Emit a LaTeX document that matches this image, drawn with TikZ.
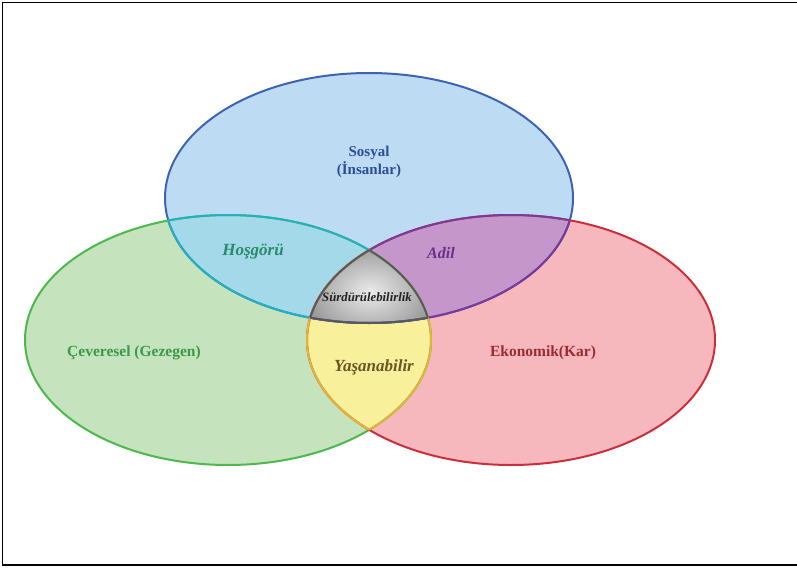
\documentclass[tikz,border=0pt]{standalone}
\usepackage{fontspec}
\setmainfont{Liberation Serif}
\begin{document}
\begin{tikzpicture}[x=1pt,y=-1pt]
  % palette
  \definecolor{bFill}{RGB}{189,220,244}
  \definecolor{bLine}{RGB}{61,100,180}
  \definecolor{gFill}{RGB}{197,227,188}
  \definecolor{gLine}{RGB}{77,184,77}
  \definecolor{rFill}{RGB}{246,184,189}
  \definecolor{rLine}{RGB}{204,47,60}
  \definecolor{cFill}{RGB}{163,217,233}
  \definecolor{cLine}{RGB}{34,178,191}
  \definecolor{pFill}{RGB}{196,150,201}
  \definecolor{pLine}{RGB}{123,58,153}
  \definecolor{yFill}{RGB}{248,240,154}
  \definecolor{yLine}{RGB}{225,181,58}
  \definecolor{kLine}{RGB}{89,89,89}
  \definecolor{tBlue}{RGB}{44,76,153}
  \definecolor{tTeal}{RGB}{42,138,106}
  \definecolor{tPurple}{RGB}{106,47,138}
  \definecolor{tDark}{RGB}{34,34,34}
  \definecolor{tOlive}{RGB}{107,85,36}
  \definecolor{tGreen}{RGB}{58,154,74}
  \definecolor{tRed}{RGB}{154,43,48}
  \tikzset{
    rim/.style={line width=2pt},
    label/.style={font=\bfseries\fontsize{15.5}{18}\selectfont, align=center},
    itlabel/.style={font=\bfseries\itshape\fontsize{17}{20}\selectfont},
  }
  \def\Bset{(369,198) ellipse [x radius=204pt, y radius=125pt]}
  \def\Gset{(228,340) ellipse [x radius=203pt, y radius=125pt]}
  \def\Rset{(511,340) ellipse [x radius=204pt, y radius=125pt]}

  \useasboundingbox (0,0) rectangle (797,567);
  \fill[white] (0,0) rectangle (797,567);

  % base circles
  \fill[bFill] \Bset;
  \fill[gFill] \Gset;
  \fill[rFill] \Rset;

  % pairwise overlaps
  \begin{scope}\clip \Bset; \fill[cFill] \Gset; \end{scope}
  \begin{scope}\clip \Bset; \fill[pFill] \Rset; \end{scope}
  \begin{scope}\clip \Gset; \fill[yFill] \Rset; \end{scope}
  % common core
  \begin{scope}
    \clip \Bset; \clip \Gset; \clip \Rset;
    \shade[inner color=white!92!black, outer color=white!55!black] (370,292) ellipse [x radius=75pt, y radius=55pt];
  \end{scope}

  % outer rims
  \draw[rim, bLine] \Bset;
  \draw[rim, gLine] \Gset;
  \draw[rim, rLine] \Rset;

  % rims of the overlaps
  \begin{scope}\clip \Bset; \draw[rim, cLine] \Gset; \end{scope}
  \begin{scope}\clip \Gset; \draw[rim, cLine] \Bset; \end{scope}
  \begin{scope}\clip \Bset; \draw[rim, pLine] \Rset; \end{scope}
  \begin{scope}\clip \Rset; \draw[rim, pLine] \Bset; \end{scope}
  \begin{scope}\clip \Gset; \draw[rim, yLine] \Rset; \end{scope}
  \begin{scope}\clip \Rset; \draw[rim, yLine] \Gset; \end{scope}
  \begin{scope}\clip \Bset; \clip \Gset; \draw[rim, kLine] \Rset; \end{scope}
  \begin{scope}\clip \Bset; \clip \Rset; \draw[rim, kLine] \Gset; \end{scope}
  \begin{scope}\clip \Gset; \clip \Rset; \draw[rim, kLine] \Bset; \end{scope}

  % labels
  \node[label, font=\bfseries\fontsize{15}{18.5}\selectfont, text=tBlue] (sosyal) at (369,162) {Sosyal\\(İnsanlar)};
  \node[itlabel, text=tTeal] (hosgoru) at (253,252) {Hoşgörü};
  \node[itlabel, font=\bfseries\itshape\fontsize{16}{19}\selectfont, text=tPurple] (adil) at (441,253) {Adil};
  \node[font=\bfseries\itshape\fontsize{12.8}{15}\selectfont, text=tDark] (core) at (367,297) {Sürdürülebilirlik};
  \node[itlabel, text=tOlive] (yasan) at (374,367) {Yaşanabilir};
  \node[label, text=tGreen] (cevre) at (134,353) {Çeveresel (Gezegen)};
  \node[label, text=tRed] (ekon) at (543,353) {Ekonomik(Kar)};

  % frame
  \draw[line width=1.5pt] (800,2.5) -- (2.5,2.5) -- (2.5,565) -- (800,565);
\end{tikzpicture}
\end{document}
